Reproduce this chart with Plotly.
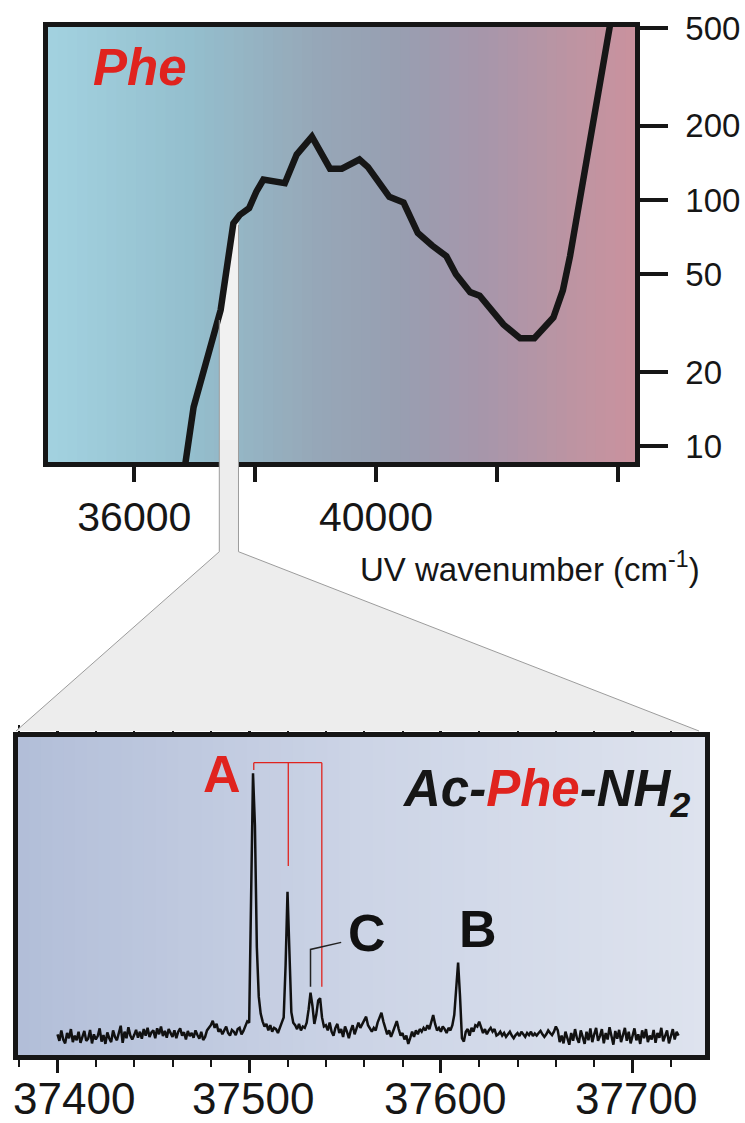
import plotly.graph_objects as go

# ---------------- data: top panel (Phe, log scale) ----------------
uv_wavenumber = [36830, 36982, 37429, 37640, 37744, 37901, 38020, 38137, 38492, 38688,
                 38940, 39239, 39435, 39726, 39868, 40064, 40221, 40457, 40693, 40929,
                 41165, 41323, 41559, 41716, 42109, 42385, 42621, 42936, 43093, 43211,
                 43900]
uv_intensity = [8.0, 14.4, 35.7, 80.4, 86.9, 92.7, 108, 121, 117, 153,
                181, 134, 134, 146, 136, 115, 103, 97.6, 73.4, 65.3,
                59.1, 49.9, 42.2, 40.8, 31.2, 27.4, 27.4, 33.3, 42.9, 59,
                560]
top_x_labeled_ticks = [36000, 40000]
top_x_text = ["36000", "40000"]
top_x_tick_step = 2000
top_y_ticks = [10, 20, 50, 100, 200, 500]
top_y_text = ["10", "20", "50", "100", "200", "500"]

# ---------------- data: bottom panel (Ac-Phe-NH2 spectrum) ----------------
# each segment: (first wavenumber, intensities in 1/1000 of peak A), 1 cm-1 spacing
spec_segments = [
    (37400, [-5, -30, 10, -25, -40, 0, -20, 15, -35, -10,
             -28, 5, -38, -15, 8, -30, -22, 12, -40, -5,
             -25, -12, 18, -33, -8, -42, 2, -20, -35, 10,
             -15, -28, -3, 28, -38, 5, -20, 22, -10, -25]),
    (37440, [-8, 12, -18, 5, -22, 15, -10, 20, -15, 2,
             10, -20, 18, -5, 25, -12, 8, -18, 15, -2,
             -15, 10, -20, 5, 18, -10, 3, -25, 8, -12,
             0, -18, 10, -8, -22, 5, -27, -15, 10, 20]),
    (37480, [30, 47, 20, 35, 5, 15, -5, 10, 25, 0,
             -10, 12, 5, -8, 15, 20, -5, 8, 25, 45]),
    (37500, [40, 520, 1000, 800, 330, 140, 75, 45]),
    (37508, [25, 35, 10, 30, 5, 20, 15, 0, 25, 40]),
    (37518, [60, 260, 544, 330, 80, 40]),
    (37524, [30, 15, 35, 10, 25, 20, 40]),
    (37531, [90, 155, 105, 35, 70, 125, 134, 60, 25]),
    (37540, [30, 10, 40, 5, -10, 20, 35, 0, 15, -15,
             25, 5, -20, 10, 30, -5, 15, 40, 20, 35,
             50, 63, 30, 15, 5, 20, 10, 40, 60, 78,
             45, 20, -5, 10, -15, 5, 25, 46, 15, -10,
             0, -25, -10, -42, -20, 5, -15, 10, -5, 15,
             5, 20, 10, 30, 15, 40, 69, 35, 10, 20]),
    (37600, [5, 25, 15, 0, 20, 10, 30]),
    (37607, [70, 170, 271, 140, -20, -33, 5]),
    (37614, [15, -10, 20, 5, 30, 25, 44, 20, 0, 15, -5, 10, 20, 5, 15, -10]),
    (37630, [-5, 5, -10, 0, -15, -5, 5, -10, -20, -8,
             0, -12, 5, -5, -15, 0, -8, 5, -12, -2,
             -10, 0, 8, -5, -15, -5, 10, 0, -8, 5]),
    (37660, [25, 10, -35, -10, -40, 5, -25, -45, 0, -30,
             15, -20, -38, 10, -15, -42, 5, -28, 18, -35,
             -5, 20, -30, -12, 15, -40, 0, -25, 22, -18,
             -45, 8, -22, 12, -35, -8, 20, -30, 5, -40,
             -15, 18, -28, -5, -42, 10, -20, 15, -35, -10,
             -25, 12, -38, 0, -18, 20, -32, -8, 10, -40,
             -12, 15, -25, 5, -10]),
]
bottom_x_ticks = [37400, 37500, 37600, 37700]
bottom_x_text = ["37400", "37500", "37600", "37700"]

# annotation marks (bottom panel, data units)
bracket_x = [37502.4, 37520.4, 37537.9]
bracket_bottom = [1.013, 0.643, 0.178]
bracket_top = 1.041
c_leader_x = [37532.0, 37532.0, 37548.0]
c_leader_y = [0.178, 0.322, 0.349]
labels = [("A", 37486.0, 0.999, "#E0231E"), ("C", 37561.6, 0.385, "#111111"),
          ("B", 37619.4, 0.402, "#111111")]

spec_x, spec_y = [], []
for start, vals in spec_segments:
    for i, v in enumerate(vals):
        spec_x.append(start + i)
        spec_y.append(v / 1000.0)

# ---------------- styling ----------------
W, H = 745, 1123
SANS = "Liberation Sans, Arial, sans-serif"
INK = "#161616"
RED = "#E0231E"


def px(x):
    return x / W


def py(y):
    return 1 - y / H


def lerp(stops, t):
    for (t0, c0), (t1, c1) in zip(stops, stops[1:]):
        if t0 <= t <= t1:
            f = (t - t0) / (t1 - t0)
            return "rgb(%d,%d,%d)" % tuple(round(a + (b - a) * f) for a, b in zip(c0, c1))
    return "rgb(%d,%d,%d)" % stops[-1][1]


top_stops = [(0.0, (162, 210, 224)), (0.25, (148, 190, 205)), (0.45, (150, 168, 184)),
             (0.6, (152, 158, 177)), (0.75, (168, 150, 170)), (0.9, (190, 148, 162)),
             (1.0, (202, 146, 158))]
bot_stops = [(0.0, (178, 190, 216)), (0.5, (204, 212, 230)), (1.0, (222, 227, 238))]

shapes = []
N = 60
for i in range(N):
    t = (i + 0.5) / N
    shapes.append(dict(type="rect", xref="x domain", yref="y domain", x0=i / N, x1=(i + 1) / N + 0.002,
                       y0=0, y1=1, fillcolor=lerp(top_stops, t), line=dict(width=0), layer="below"))
    shapes.append(dict(type="rect", xref="x2 domain", yref="y2 domain", x0=i / N, x1=(i + 1) / N + 0.002,
                       y0=0, y1=1, fillcolor=lerp(bot_stops, t), line=dict(width=0), layer="below"))

# zoom projection (decorative connector)
TX0, TX1, TY0, TY1 = 48, 635, 27, 462


def tdom(pxx, pyy):
    return (pxx - TX0) / (TX1 - TX0), (TY1 - pyy) / (TY1 - TY0)


def path(points, ref_fn, close=True):
    s = "M " + " L ".join("%.5f,%.5f" % ref_fn(a, b) for a, b in points)
    return s + (" Z" if close else "")


strip_top = [(233.4, 224.5), (238.5, 222), (238.5, 462), (219.3, 462), (219.3, 316)]
shapes.append(dict(type="path", xref="x domain", yref="y domain", path=path(strip_top, tdom),
                   fillcolor="#F1F1F1", line=dict(width=0), layer="below"))
funnel = [(219.3, 440), (238.5, 440), (238.5, 551.7), (699, 731), (16, 731), (219.3, 551.7)]
shapes.append(dict(type="path", xref="paper", yref="paper",
                   path=path(funnel, lambda a, b: (px(a), py(b))),
                   fillcolor="#EDEDED", line=dict(width=0), layer="above"))
for edge in ([(219.3, 320), (219.3, 551.7), (16, 731)], [(238.5, 225), (238.5, 551.7), (699, 731)]):
    shapes.append(dict(type="path", xref="paper", yref="paper",
                       path=path(edge, lambda a, b: (px(a), py(b)), close=False),
                       line=dict(width=1, color="#9C9C9C"), layer="above"))

fig = go.Figure()
fig.add_trace(go.Scatter(x=uv_wavenumber, y=uv_intensity, mode="lines",
                         line=dict(color=INK, width=6.5), xaxis="x", yaxis="y",
                         hoverinfo="skip", showlegend=False))
fig.add_trace(go.Scatter(x=spec_x, y=spec_y, mode="lines",
                         line=dict(color="#111111", width=2.5), xaxis="x2", yaxis="y2",
                         hoverinfo="skip", showlegend=False))
# red bracket for progression A
bx, by = [bracket_x[0], bracket_x[-1], None], [bracket_top, bracket_top, None]
for xv, yb in zip(bracket_x, bracket_bottom):
    bx += [xv, xv, None]
    by += [bracket_top, yb, None]
fig.add_trace(go.Scatter(x=bx, y=by, mode="lines", line=dict(color=RED, width=1.3),
                         xaxis="x2", yaxis="y2", hoverinfo="skip", showlegend=False))
fig.add_trace(go.Scatter(x=c_leader_x, y=c_leader_y, mode="lines", line=dict(color="#222222", width=1.5),
                         xaxis="x2", yaxis="y2", hoverinfo="skip", showlegend=False))

annotations = []
annotations.append(dict(text="<b><i>Phe</i></b>", xref="paper", yref="paper", x=px(91), y=py(68),
                        xanchor="left", yanchor="middle", showarrow=False,
                        font=dict(family=SANS, size=51, color=RED)))
annotations.append(dict(text="UV wavenumber (cm<sup>-1</sup>)", xref="paper", yref="paper",
                        x=px(702), y=py(590), xanchor="right", yanchor="bottom", showarrow=False,
                        font=dict(family=SANS, size=33, color=INK)))
for txt, xv, yv, col in labels:
    annotations.append(dict(text="<b>%s</b>" % txt, xref="x2", yref="y2", x=xv, y=yv,
                            xanchor="center", yanchor="middle", showarrow=False,
                            font=dict(family=SANS, size=52, color=col)))
annotations.append(dict(text="<b><i>Ac-<span style='color:%s'>Phe</span>-NH<sub>2</sub></i></b>" % RED,
                        xref="x2", yref="y2", x=37578.5, y=1.058, xanchor="left", yanchor="top",
                        showarrow=False, font=dict(family=SANS, size=51, color=INK)))
label_shift = [17, 4, 4, 3]
for v, t, dx in zip(bottom_x_ticks, bottom_x_text, label_shift):
    annotations.append(dict(text=t, xref="x2", yref="y2 domain", x=v, y=0, xanchor="center",
                            yanchor="top", xshift=dx, yshift=-18, showarrow=False, borderpad=0,
                            font=dict(family=SANS, size=44, color=INK)))

fig.update_layout(
    width=W, height=H, autosize=False, margin=dict(l=0, r=0, t=0, b=0, pad=0),
    paper_bgcolor="white", plot_bgcolor="white", showlegend=False,
    shapes=shapes, annotations=annotations,
    xaxis=dict(domain=[px(TX0), px(TX1)], anchor="y", range=[34572, 44287], automargin=False,
               tickmode="array", tickvals=top_x_labeled_ticks, ticktext=top_x_text,
               ticks="outside", ticklen=15, tickwidth=4, tickcolor=INK,
               minor=dict(tick0=36000, dtick=top_x_tick_step, ticks="outside", ticklen=15,
                          tickwidth=4, tickcolor=INK),
               showline=True, linewidth=4.5, linecolor=INK, mirror=True,
               showgrid=False, zeroline=False,
               tickfont=dict(family=SANS, size=41, color=INK)),
    yaxis=dict(domain=[py(TY1), py(TY0)], anchor="x", type="log", range=[0.935, 2.703],
               automargin=False,
               side="right", tickmode="array", tickvals=top_y_ticks, ticktext=top_y_text,
               ticks="outside", ticklen=28, tickwidth=4, tickcolor=INK, ticklabelstandoff=11,
               showline=True, linewidth=4.5, linecolor=INK, mirror=True,
               showgrid=False, zeroline=False,
               tickfont=dict(family=SANS, size=33, color=INK)),
    xaxis2=dict(domain=[px(18), px(705)], anchor="y2", range=[37379.4, 37737.8], automargin=False,
                tickmode="array", tickvals=bottom_x_ticks, showticklabels=False,
                ticks="outside", ticklen=13, tickwidth=2.5, tickcolor=INK,
                minor=dict(dtick=20, tick0=37400, ticks="outside", ticklen=7, tickwidth=2,
                           tickcolor=INK),
                showline=True, linewidth=5, linecolor=INK, mirror="ticks",
                showgrid=False, zeroline=False),
    yaxis2=dict(domain=[py(1055), py(737)], anchor="x2", range=[-0.0847, 1.140], automargin=False,
                showticklabels=False, ticks="", showline=True, linewidth=5, linecolor=INK,
                mirror=True, showgrid=False, zeroline=False),
)

fig.write_html("out.html", config={"displayModeBar": False},
               post_script="document.body.style.margin='0';document.body.style.overflow='hidden';")
